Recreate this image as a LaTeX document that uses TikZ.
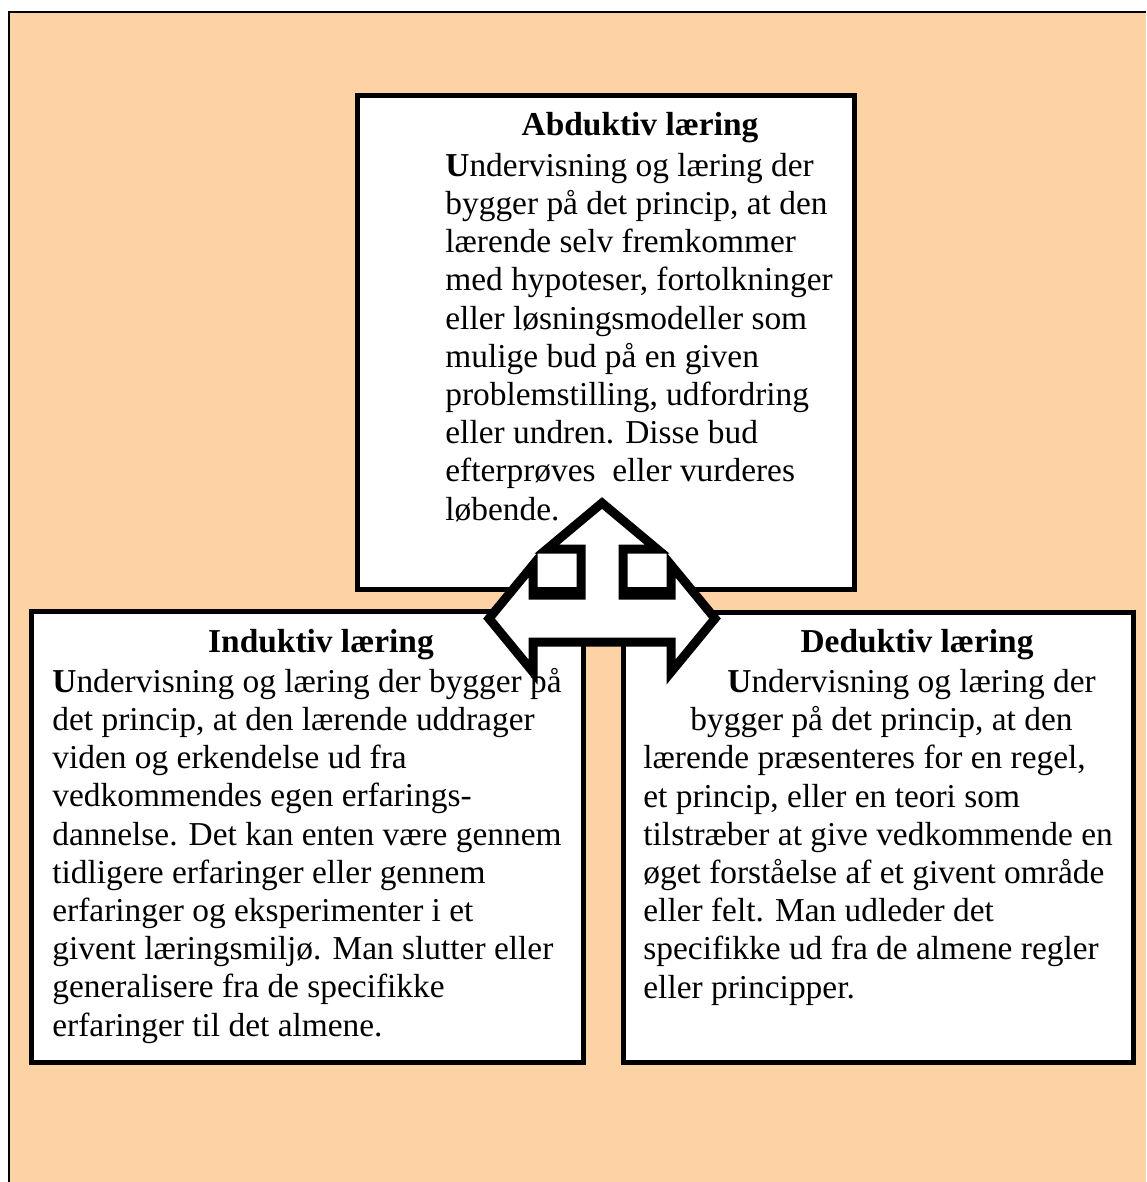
\documentclass[tikz,border=0pt]{standalone}
\usepackage{fontspec}
\setmainfont{Liberation Serif}
\usetikzlibrary{positioning}
\definecolor{peach}{RGB}{253,211,166}

\tikzset{
  box/.style={draw, line width=2.5pt, fill=white},
  heading/.style={anchor=base, inner sep=0pt, font=\fontsize{16.7}{19.1}\selectfont\bfseries},
  body/.style={anchor=base west, align=left, inner sep=0pt, font=\fontsize{16.7}{19.1}\selectfont},
}

\begin{document}
\begin{tikzpicture}[x=0.5pt, y=-0.5pt]
\useasboundingbox (0,0) rectangle (1146,1182);
% Background
\fill[peach] (9,12) rectangle (1146,1182);
\draw[line width=0.8pt] (1146,12) -- (9,12) -- (9,1182);
% Boxes
\draw[box] (357.5,95.5) rectangle (854.5,589.5);
\draw[box] (31,611) rectangle (583,1062);
\draw[box] (623,612) rectangle (1133,1062);
% Three-way arrow
\draw[line width=4.5pt, fill=white]
	(602,503) -- (657,549) -- (623,549) -- (623,595) -- (671,595) -- (671,565)
	-- (715,618.5) -- (671,672) -- (671,642) -- (533,642) -- (533,672)
	-- (489,618.5) -- (533,565) -- (533,595) -- (581,595) -- (581,549)
	-- (547,549) -- cycle;
% Abduktiv (body placed at the baseline of its last line)
\node[heading] (abdtitle) at (640,136) {Abduktiv læring};
\node[body] (abdtext) at (445,520) {\textbf{U}ndervisning og læring der\\
	bygger på det princip, at den\\
	lærende selv fremkommer\\
	med hypoteser, fortolkninger\\
	eller løsningsmodeller som\\
	mulige bud på en given\\
	problemstilling, udfordring\\
	eller undren. Disse bud\\
	efterprøves \ eller vurderes\\
	løbende.};
% Induktiv
\node[heading] (indtitle) at (321,652) {Induktiv læring};
\node[body] (indtext) at (52,1036) {\textbf{U}ndervisning og læring der bygger på\\
	det princip, at den lærende uddrager\\
	viden og erkendelse ud fra\\
	vedkommendes egen erfarings-\\
	dannelse. Det kan enten være gennem\\
	tidligere erfaringer eller gennem\\
	erfaringer og eksperimenter i et\\
	givent læringsmiljø. Man slutter eller\\
	generalisere fra de specifikke\\
	erfaringer til det almene.};
% Deduktiv
\node[heading] (dedtitle) at (917,652) {Deduktiv læring};
\node[body] (dedtext) at (643,998) {\hspace*{42pt}\textbf{U}ndervisning og læring der\\
	\hspace*{23.5pt}bygger på det princip, at den\\
	lærende præsenteres for en regel,\\
	et princip, eller en teori som\\
	tilstræber at give vedkommende en\\
	øget forståelse af et givent område\\
	eller felt. Man udleder det\\
	specifikke ud fra de almene regler\\
	eller principper.};
\end{tikzpicture}
\end{document}
